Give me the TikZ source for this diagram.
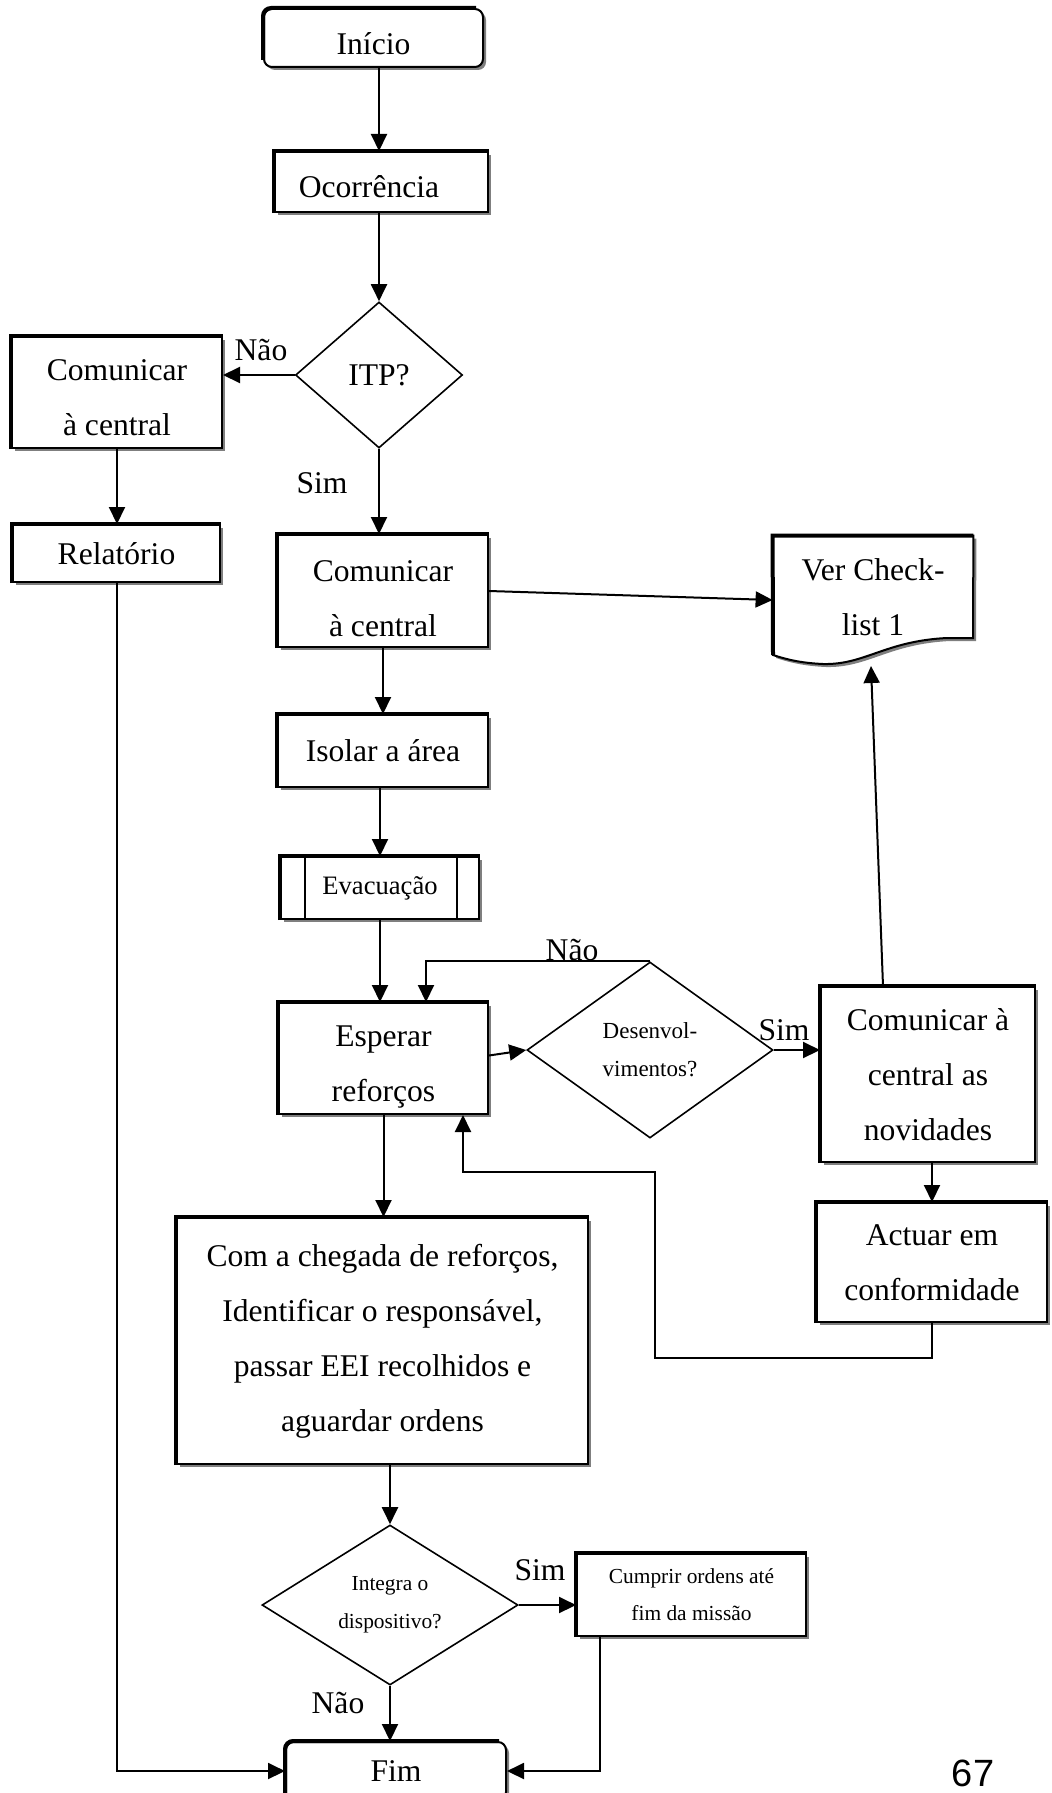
\documentclass[tikz,border=0pt]{standalone}
\usepackage{fontspec}
\setmainfont{Liberation Serif}
\newfontfamily\pagenumfont{Liberation Sans}
\usetikzlibrary{shapes.geometric,arrows.meta,calc,shadows}
\pgfdeclarelayer{background}
\pgfsetlayers{background,main}
% invisible strut that sets the height of a first text line
\newcommand{\firstline}[1]{\rule{0pt}{#1}}

\begin{document}
\begin{tikzpicture}[x=0.5pt,y=-0.5pt,
  txt/.style={font=\fontsize{15.8}{27.5}\selectfont},
  boxshadow/.style={drop shadow={shadow xshift=1.5pt,shadow yshift=-1.5pt,fill=black,opacity=0.5}},
  proc/.style={txt,rectangle,draw,line width=1pt,fill=white,inner sep=0pt,align=center,boxshadow},
  term/.style={proc,rounded corners=4pt},
  dec/.style={txt,diamond,draw,line width=0.8pt,inner sep=0pt,align=center},
  arr/.style={line width=1pt,-{Triangle[length=8.5pt,width=8pt]}},
  conn/.style={line width=1pt},
  topleft/.style={line width=2pt},
  lbl/.style={txt,inner sep=0pt},
]
\useasboundingbox (0,0) rectangle (1051,1793);

% --- nodes ---
\node[term,minimum width=109.5pt,minimum height=29pt] (ini) at (373.5,38) {\firstline{17pt}Início};
\node[proc,minimum width=106.5pt,minimum height=30pt] (oco) at (381.5,182) {\firstline{16pt}Ocorrência\hspace*{12.5pt}};
\node[dec,minimum width=83.5pt,minimum height=73pt] (itp) at (379,375) {ITP?};
\node[proc,minimum width=105pt,minimum height=55.5pt] (lcom) at (117,392.5) {\firstline{15.7pt}Comunicar\\à central};
\node[proc,minimum width=103.5pt,minimum height=28.5pt] (rel) at (116.5,553.5) {Relatório};
\node[proc,minimum width=105pt,minimum height=56pt] (ccom) at (383,591) {\firstline{17.7pt}Comunicar\\à central};
\node[txt,align=center,inner sep=0pt,minimum width=100pt,minimum height=61pt] (doc) at (873,597) {Ver Check-\\list 1};
\node[proc,minimum width=105pt,minimum height=36pt] (iso) at (383,751) {Isolar a área};
\node[proc,font=\fontsize{13.3}{16}\selectfont,minimum width=99pt,minimum height=31pt] (eva) at (380,888) {Evacuação};
\node[proc,minimum width=104.5pt,minimum height=55.5pt] (esp) at (383.5,1058.5) {\firstline{18.7pt}Esperar\\reforços};
\node[dec,font=\fontsize{11.5}{19}\selectfont,minimum width=123pt,minimum height=88pt] (des) at (650,1050) {Desenvol-\\vimentos?};
\node[proc,minimum width=107pt,minimum height=87.5pt] (nov) at (928,1074.5) {Comunicar à\\central as\\novidades};
\node[proc,minimum width=115pt,minimum height=59.5pt] (act) at (932,1262.5) {Actuar em\\conformidade};
\node[proc,minimum width=205.5pt,minimum height=123pt] (big) at (382.5,1341) {Com a chegada de reforços,\\Identificar o responsável,\\passar EEI recolhidos e\\aguardar ordens};
\node[dec,font=\fontsize{10.7}{19}\selectfont,minimum width=128pt,minimum height=73pt] (int) at (390,1605) {Integra o\\dispositivo?};
\node[proc,font=\fontsize{10.7}{18.5}\selectfont,minimum width=114.5pt,minimum height=41pt] (cum) at (691.5,1595) {Cumprir ordens até\\fim da missão};
\node[term,minimum width=110pt,minimum height=29pt] (fim) at (396,1771) {Fim};

% document symbol outline (wavy bottom)
\begin{pgfonlayer}{background}
\draw[line width=1pt,fill=white,boxshadow] (doc.north west) -- (doc.north east) -- (973,638) -- (947,638)
  .. controls (885,641) and (865,665) .. (823,664)
  .. controls (800,663) and (785,659) .. (773,655) -- cycle;
\end{pgfonlayer}
\coordinate (dtip) at (871,666);

% heavier top and left borders
\foreach \n in {oco,lcom,rel,ccom,iso,eva,esp,nov,act,big,cum}
  \draw[topleft] (\n.south west) |- (\n.north east);
\foreach \n in {ini,fim}
  \draw[topleft,rounded corners=4pt] ($(\n.south west)+(0,-8)$) |- ($(\n.north east)+(-8,0)$);
\draw[topleft] (773,655) -- (doc.north west) -- (doc.north east);

% predefined-process side bars
\draw[conn] ($(eva.north west)+(25,0)$) -- ($(eva.south west)+(25,0)$);
\draw[conn] ($(eva.north east)+(-23,0)$) -- ($(eva.south east)+(-23,0)$);

% --- connectors ---
\draw[arr] (itp.north |- ini.south) -- (itp.north |- oco.north);
\draw[arr] (itp.north |- oco.south) -- (itp.north);
\draw[arr] (itp.west) -- (itp.west -| lcom.east);
\draw[arr] (itp.south) -- (itp.south |- ccom.north);
\draw[arr] (lcom.south) -- (lcom.south |- rel.north);
\draw[arr] (rel.south) |- (fim.west);
\draw[arr] (ccom.east) -- ($(doc.west)+(0,3)$);
\draw[arr] (ccom.south) -- (ccom.south |- iso.north);
\draw[arr] (eva.north |- iso.south) -- (eva.north);
\draw[arr] (eva.south) -- (eva.south |- esp.north);
\draw[arr] ($(esp.east)+(0,-3)$) -- (des.west);
\draw[arr] (des.north) -| ($(esp.north)+(42.5,0)$);
\draw[arr] (des.east) -- (des.east -| nov.west);
\draw[arr] ($(nov.north)+(-45,0)$) -- (dtip);
\draw[arr] (act.north |- nov.south) -- (act.north);
\draw[arr] (act.south) |- (655,1358) |- (463,1172) -- ($(esp.south)+(79.5,0)$);
\draw[arr] (esp.south) -- (esp.south |- big.north);
\draw[arr] (int.north |- big.south) -- (int.north);
\draw[arr] (int.east) -- (int.east -| cum.west);
\draw[arr] (int.south) -- (int.south |- fim.north);
\draw[arr] ($(cum.south)+(-91.5,0)$) |- (fim.east);

% --- branch labels ---
\node[lbl] (n1) at (261,350) {Não};
\node[lbl] (s1) at (322,483) {Sim};
\node[lbl] (n2) at (572,950) {Não};
\node[lbl] (s2) at (784,1030) {Sim};
\node[lbl] (s3) at (540,1570) {Sim};
\node[lbl] (n3) at (338,1703) {Não};

% page number
\node[font=\pagenumfont\fontsize{19}{22}\selectfont,inner sep=0pt] (pg) at (973,1773) {67};
\end{tikzpicture}
\end{document}
